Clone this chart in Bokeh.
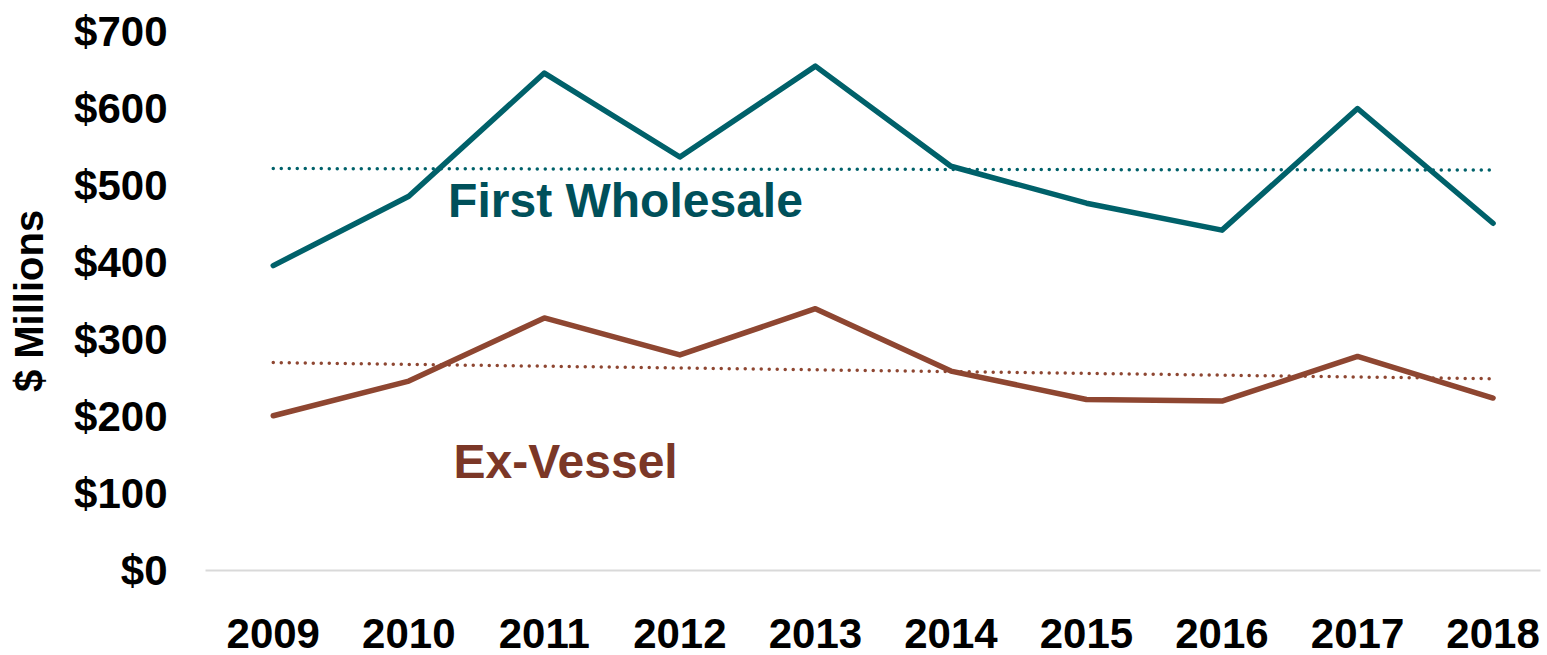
from bokeh.plotting import figure
from bokeh.models import Range1d, FixedTicker, Label
from bokeh.embed import file_html
from bokeh.resources import INLINE

years = [2009, 2010, 2011, 2012, 2013, 2014, 2015, 2016, 2017, 2018]
first_wholesale = [396, 486, 646, 537, 655, 525, 477, 442, 600, 451]
ex_vessel = [201, 246, 328, 280, 340, 259, 222, 220, 278, 224]

# trend lines (start, end)
fw_trend_years = [2009, 2018]
fw_trend = [522, 520]
ev_trend_years = [2009, 2018]
ev_trend = [270, 249]

y_ticks = [0, 100, 200, 300, 400, 500, 600, 700]
y_tick_labels = ["$0", "$100", "$200", "$300", "$400", "$500", "$600", "$700"]
x_tick_labels = [str(y) for y in years]

TEAL = "#00616A"
TEAL_TEXT = "#00505A"
BROWN = "#8E4631"
BROWN_TEXT = "#7B3727"
FONT = "Liberation Sans"

p = figure(width=1547, height=655, output_backend="svg", toolbar_location=None,
           x_range=Range1d(2008.5, 2018.35), y_range=Range1d(0, 700),
           min_border_left=205, min_border_right=7, min_border_top=31, min_border_bottom=85)
p.outline_line_color = None
p.xgrid.visible = False
p.ygrid.visible = False
p.background_fill_color = "white"
p.border_fill_color = "white"

# y axis
p.yaxis.ticker = FixedTicker(ticks=y_ticks)
p.yaxis.major_label_overrides = {t: l for t, l in zip(y_ticks, y_tick_labels)}
p.yaxis.axis_line_color = None
p.yaxis.major_tick_line_color = None
p.yaxis.minor_tick_line_color = None
p.yaxis.major_tick_out = 0
p.yaxis.major_tick_in = 0
p.yaxis.minor_tick_out = 0
p.yaxis.major_label_standoff = 38
p.yaxis.major_label_text_font = FONT
p.yaxis.major_label_text_font_style = "bold"
p.yaxis.major_label_text_font_size = "42px"
p.yaxis.major_label_text_color = "black"
p.yaxis.axis_label = "$ Millions"
p.yaxis.axis_label_text_font = FONT
p.yaxis.axis_label_text_font_style = "bold"
p.yaxis.axis_label_text_font_size = "40px"
p.yaxis.axis_label_text_color = "black"
p.yaxis.axis_label_standoff = 20

# x axis
p.xaxis.ticker = FixedTicker(ticks=years)
p.xaxis.major_label_overrides = {y: l for y, l in zip(years, x_tick_labels)}
p.xaxis.axis_line_color = "#D9D9D9"
p.xaxis.axis_line_width = 2
p.xaxis.major_tick_line_color = None
p.xaxis.minor_tick_line_color = None
p.xaxis.major_tick_out = 0
p.xaxis.major_tick_in = 0
p.xaxis.minor_tick_out = 0
p.xaxis.major_label_standoff = 48
p.xaxis.major_label_text_font = FONT
p.xaxis.major_label_text_font_style = "bold"
p.xaxis.major_label_text_font_size = "42px"
p.xaxis.major_label_text_color = "black"

# trend lines
p.line(fw_trend_years, fw_trend, line_color=TEAL, line_width=3.5, line_dash="0 8", line_cap="round")
p.line(ev_trend_years, ev_trend, line_color=BROWN, line_width=3.5, line_dash="0 8", line_cap="round")

# series
p.line(years, first_wholesale, line_color=TEAL, line_width=5.5, line_cap="round", line_join="round")
p.line(years, ex_vessel, line_color=BROWN, line_width=5.5, line_cap="round", line_join="round")

labels = [("First Wholesale", 2010.29, 481, TEAL_TEXT),
          ("Ex-Vessel", 2010.33, 142, BROWN_TEXT)]
for txt, lx, ly, col in labels:
    p.add_layout(Label(x=lx, y=ly, text=txt, text_font=FONT, text_font_style="bold",
                       text_font_size="48px", text_color=col, text_align="left",
                       text_baseline="middle"))

open("out.html", "w").write(file_html(p, INLINE))
